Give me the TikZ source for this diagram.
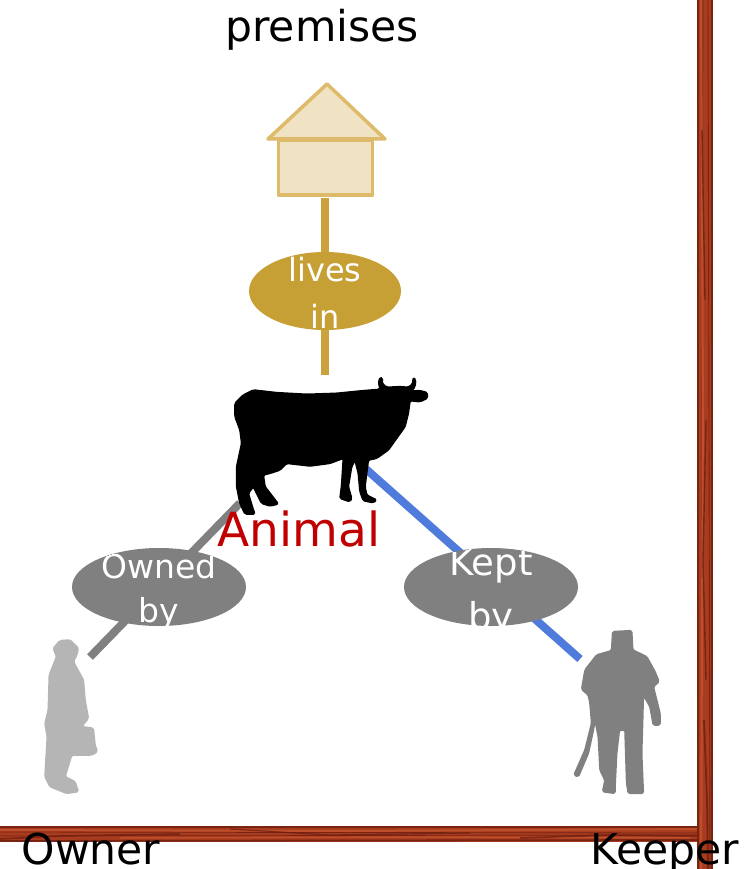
\documentclass[tikz,border=0pt]{standalone}
\usepackage{fontspec}
\setmainfont{DejaVu Sans}
\usetikzlibrary{shapes.geometric}
\definecolor{wood}{HTML}{A83C1E}
\definecolor{woodlight}{HTML}{BF4E2A}
\definecolor{wooddark}{HTML}{6A1C10}
\definecolor{tanline}{HTML}{CBA23C}
\definecolor{tanfill}{HTML}{C7A035}
\definecolor{housefill}{HTML}{EFE3C4}
\definecolor{housestroke}{HTML}{DDBB6B}
\definecolor{blueline}{HTML}{4F7BDC}
\definecolor{greyoval}{HTML}{808080}
\definecolor{animalred}{HTML}{C00000}
\tikzset{
  conn/.style={line width=8pt,line cap=butt},
  oval/.style={ellipse,inner sep=0pt,minimum width=#1,minimum height=78pt},
  ovaltext/.style={anchor=base,text=white,inner sep=0pt},
  caption/.style={anchor=base,inner sep=0pt,font=\fontsize{42.5}{42.5}\selectfont},
  silhouette/.style={line join=round,rounded corners=1.5pt,line width=1.6pt},
  streak/.style={wooddark,line width=#1,opacity=.75},
  lightstreak/.style={woodlight,line width=#1}
}
\begin{document}
\begin{tikzpicture}[x=1pt,y=-1pt]
\useasboundingbox (0,0) rectangle (744,869);
\fill[white] (0,0) rectangle (744,869);
% frame
\fill[wood] (0,826) rectangle (698,842);
\foreach \ya/\yb/\w in {827/827/1.5,841/840/1.8,832/833/.8,836/835/.7}{
  \draw[streak=\w] (0,\ya) -- (698,\yb);}
\draw[lightstreak=2] (0,830) -- (350,831) -- (698,829);
\draw[lightstreak=1.5] (120,838) -- (420,837) -- (690,838);
\draw[streak=1.5] (0,839) -- (60,836) -- (180,834);
\draw[streak=1.2] (230,829) -- (330,835) -- (470,833);
\draw[streak=1.5] (520,838) -- (610,835) -- (697,836);
\fill[wood] (697,0) rectangle (713,869);
\foreach \xa/\xb/\w in {698/698/1.8,712/712/2,703/701/.8,708/710/.9}{
  \draw[streak=\w] (\xa,0) -- (\xb,869);}
\draw[lightstreak=2] (701,0) -- (703,400) -- (701,869);
\draw[streak=1.8] (704,720) -- (707,800) -- (708,869);
\draw[streak=1.4] (702,130) -- (705,300);
\draw[streak=1.4] (706,420) -- (703,560) -- (706,680);
% anchors of connectors
\coordinate (housebase) at (325,198);
\coordinate (cowtop) at (325,375);
\coordinate (cowrear) at (240,503);
\coordinate (ownerend) at (90,657);
\coordinate (cowfront) at (358,462);
\coordinate (keeperend) at (580,659);
\draw[conn,tanline] (housebase) -- (cowtop);
\draw[conn,greyoval] (cowrear) -- (ownerend);
\draw[conn,blueline] (cowfront) -- (keeperend);
% house
\draw[housestroke,fill=housefill,line width=3.5pt,line join=round] (278.5,140) rectangle (372.5,195);
\draw[housestroke,fill=housefill,line width=3.5pt,line join=round] (327,84) -- (268,139) -- (385,139) -- cycle;
% ovals, their words cut off by the oval
\node[oval=152pt,fill=tanfill,
  path picture={\node[ovaltext,font=\fontsize{32}{32}\selectfont] at (0,-10) {lives};
                \node[ovaltext,font=\fontsize{32}{32}\selectfont] at (0,37) {in};}]
  (livesin) at (325,291) {};
\node[oval=174pt,fill=greyoval,
  path picture={\node[ovaltext,font=\fontsize{33}{33}\selectfont] at (0,-9) {Owned};
                \node[ovaltext,font=\fontsize{33}{33}\selectfont] at (0,35) {by};}]
  (ownedby) at (159,587) {};
\node[oval=174pt,fill=greyoval,
  path picture={\node[ovaltext,font=\fontsize{37}{37}\selectfont] at (0,-12) {Kept};
                \node[ovaltext,font=\fontsize{37}{37}\selectfont] at (0,42) {by};}]
  (keptby) at (491,587) {};
% cow
\begin{scope}[shift={(220,360)},x=.3333pt,y=-.3333pt]
\filldraw[black,silhouette,even odd rule] (100,90) -- (170,98) -- (260,103) -- (350,100) -- (430,92) -- (480,88) -- (476,68) -- (480,52) -- (488,55) -- (486,70) -- (500,82) -- (540,80) -- (565,82) -- (578,72) -- (580,52) -- (587,60) -- (585,80) -- (575,93) -- (600,92) -- (622,98) -- (622,115) -- (600,125) -- (570,122) -- (565,160) -- (555,200) -- (530,235) -- (505,270) -- (470,295) -- (445,300) -- (440,340) -- (435,380) -- (440,405) -- (470,420) -- (460,428) -- (430,422) -- (420,395) -- (415,340) -- (405,300) -- (395,320) -- (385,380) -- (395,415) -- (390,425) -- (360,415) -- (365,375) -- (370,295) -- (330,310) -- (270,318) -- (200,310) -- (180,330) -- (150,340) -- (130,345) -- (135,380) -- (175,432) -- (150,438) -- (125,430) -- (100,380) -- (85,400) -- (100,450) -- (105,462) -- (75,462) -- (60,430) -- (50,380) -- (50,320) -- (65,250) -- (60,210) -- (45,170) -- (45,130) -- (70,105) -- cycle;
\end{scope}
% owner
\begin{scope}[shift={(20,620)},x=.3333pt,y=-.3333pt]
\filldraw[black!29,silhouette] (100,85) -- (120,62) -- (150,60) -- (175,85) -- (170,105) -- (160,125) -- (190,180) -- (195,240) -- (205,295) -- (185,320) -- (220,325) -- (225,375) -- (232,395) -- (215,405) -- (155,405) -- (135,470) -- (165,485) -- (175,515) -- (140,520) -- (90,500) -- (75,470) -- (82,350) -- (75,310) -- (85,270) -- (88,165) -- (110,110) -- cycle;
\end{scope}
% keeper
\begin{scope}[shift={(560,620)},x=.3333pt,y=-.3333pt]
\filldraw[black!50,silhouette] (158,35) -- (215,32) -- (218,90) -- (260,110) -- (285,155) -- (297,185) -- (280,200) -- (300,280) -- (300,315) -- (280,315) -- (270,260) -- (250,225) -- (248,300) -- (245,400) -- (250,520) -- (205,520) -- (200,490) -- (195,330) -- (178,330) -- (170,400) -- (165,500) -- (165,520) -- (128,515) -- (135,480) -- (120,450) -- (115,350) -- (105,300) -- (100,330) -- (85,400) -- (55,470) -- (42,465) -- (75,390) -- (95,310) -- (90,250) -- (85,225) -- (65,208) -- (75,150) -- (110,105) -- (155,92) -- cycle;
\end{scope}
% captions
\node[caption] (premises) at (322,42) {premises};
\node[anchor=base,inner sep=0pt,text=animalred,font=\fontsize{47}{47}\selectfont] (animal) at (299,546) {Animal};
\node[caption] (owner) at (91,864) {Owner};
\node[caption] (keeper) at (665,864) {Keeper};
\end{tikzpicture}
\end{document}
